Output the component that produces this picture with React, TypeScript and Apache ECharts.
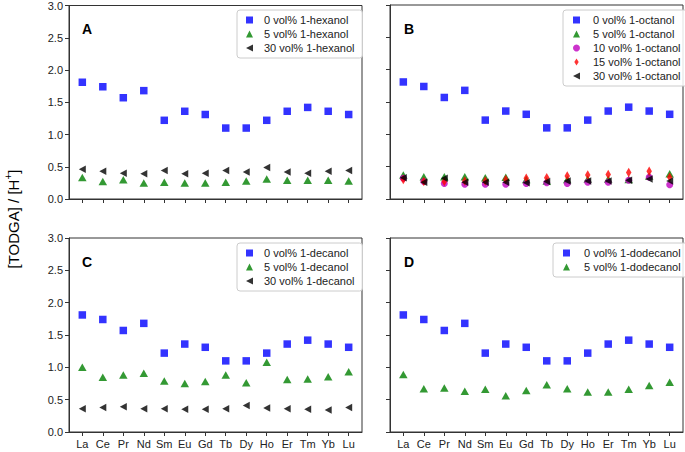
import React, { useEffect, useRef } from "react";
import * as echarts from "echarts";

const categories = ["La", "Ce", "Pr", "Nd", "Sm", "Eu", "Gd", "Tb", "Dy", "Ho", "Er", "Tm", "Yb", "Lu"];
const yTicks = [0, 0.5, 1, 1.5, 2, 2.5, 3];

const base0 = [1.81, 1.74, 1.57, 1.68, 1.22, 1.36, 1.31, 1.1, 1.1, 1.22, 1.36, 1.42, 1.36, 1.31];

const hexanol5 = [0.335, 0.27, 0.3, 0.25, 0.26, 0.25, 0.25, 0.26, 0.28, 0.31, 0.29, 0.29, 0.29, 0.28];
const hexanol30 = [0.46, 0.43, 0.4, 0.39, 0.44, 0.39, 0.4, 0.44, 0.42, 0.49, 0.42, 0.4, 0.43, 0.44];

const octanol5 = [0.37, 0.345, 0.345, 0.345, 0.33, 0.335, 0.3, 0.28, 0.3, 0.31, 0.31, 0.3, 0.355, 0.39];
const octanol10 = [0.32, 0.27, 0.24, 0.23, 0.23, 0.23, 0.24, 0.25, 0.24, 0.26, 0.26, 0.29, 0.335, 0.22];
const octanol15 = [0.3, 0.27, 0.27, 0.28, 0.28, 0.3, 0.32, 0.33, 0.355, 0.37, 0.38, 0.41, 0.43, 0.335];
const octanol30 = [0.33, 0.26, 0.32, 0.26, 0.26, 0.26, 0.25, 0.27, 0.28, 0.28, 0.28, 0.29, 0.31, 0.28];

const decanol5 = [1.0, 0.845, 0.88, 0.91, 0.79, 0.75, 0.78, 0.88, 0.76, 1.08, 0.81, 0.82, 0.855, 0.93];
const decanol30 = [0.36, 0.38, 0.39, 0.36, 0.36, 0.35, 0.35, 0.36, 0.41, 0.37, 0.36, 0.35, 0.34, 0.38];

const dodecanol5 = [0.89, 0.67, 0.68, 0.63, 0.66, 0.56, 0.64, 0.73, 0.67, 0.62, 0.62, 0.66, 0.72, 0.77];

const FONT = "Liberation Sans, Arial, sans-serif";
const AX = "#333";

const SQ = { symbol: "rect", symbolSize: 7.5, color: "#0000ff" };
const TRI = { symbol: "triangle", symbolSize: [8.5, 7.5], color: "#008000" };
const LTRI = { symbol: "path://M0,5L10,0L10,10Z", symbolSize: [7, 7.5], color: "#000000" };
const CIRC = { symbol: "circle", symbolSize: 7, color: "#bf00bf" };
const DIAM = { symbol: "path://M5,0L10,8L5,16L0,8Z", symbolSize: [5.5, 9.5], color: "#ff0000" };

const grids = [
  { left: 69, top: 5, width: 293, height: 194 },
  { left: 390, top: 5, width: 293, height: 194 },
  { left: 69, top: 238, width: 293, height: 194 },
  { left: 390, top: 238, width: 293, height: 194 },
];

function toPoints(arr: number[]) {
  return arr.map((v, i) => [i, v]);
}

function makeSeries(name: string, arr: number[], st: any, gi: number, z: number) {
  return {
    type: "scatter",
    name,
    xAxisIndex: gi,
    yAxisIndex: gi,
    data: toPoints(arr),
    symbol: st.symbol,
    symbolSize: st.symbolSize,
    itemStyle: { color: st.color },
    z,
  };
}

function makeLegend(names: string[], icons: string[], left: number, top: number, padLeft: number, textPad: number) {
  return {
    orient: "vertical",
    left,
    top,
    padding: [3, 8, 3, padLeft],
    itemWidth: 7,
    itemHeight: 7,
    itemGap: 0,
    backgroundColor: "rgba(255,255,255,0.85)",
    borderColor: "#cccccc",
    borderWidth: 1,
    borderRadius: 3,
    selectedMode: false,
    data: names.map((n, i) => ({ name: n, icon: icons[i] })),
    textStyle: { fontSize: 11, lineHeight: 14, color: "#222", fontFamily: FONT, padding: [0, 0, 0, textPad] },
  };
}

export default function App() {
  const ref = useRef<HTMLDivElement>(null);
  useEffect(() => {
    if (!ref.current) return;
    const chart = echarts.init(ref.current, null, { renderer: "svg" });
    const xAxes = grids.map((_, gi) => ({
      type: "value",
      gridIndex: gi,
      min: -0.65,
      max: 13.65,
      splitLine: { show: false },
      axisLine: { show: true, onZero: false, lineStyle: { color: AX, width: 1 } },
      axisTick: { show: true, customValues: categories.map((_, i) => i), length: 4, lineStyle: { color: AX } },
      axisLabel: {
        show: gi >= 2,
        customValues: categories.map((_, i) => i),
        formatter: (v: number) => categories[Math.round(v)],
        fontSize: 11,
        color: "#222",
        fontFamily: FONT,
        margin: 6,
      },
    }));
    const yAxes = grids.map((_, gi) => ({
      type: "value",
      gridIndex: gi,
      min: yTicks[0],
      max: yTicks[yTicks.length - 1],
      interval: 0.5,
      splitLine: { show: false },
      axisLine: { show: true, onZero: false, lineStyle: { color: AX, width: 1 } },
      axisTick: { show: true, length: 4, lineStyle: { color: AX } },
      axisLabel: {
        show: gi % 2 === 0,
        formatter: (v: number) => v.toFixed(1),
        fontSize: 11,
        color: "#222",
        fontFamily: FONT,
        margin: 6,
      },
    }));

    const series = [
      makeSeries("0 vol% 1-hexanol", base0, SQ, 0, 2),
      makeSeries("5 vol% 1-hexanol", hexanol5, TRI, 0, 3),
      makeSeries("30 vol% 1-hexanol", hexanol30, LTRI, 0, 4),
      makeSeries("0 vol% 1-octanol", base0, SQ, 1, 2),
      makeSeries("5 vol% 1-octanol", octanol5, TRI, 1, 3),
      makeSeries("10 vol% 1-octanol", octanol10, CIRC, 1, 4),
      makeSeries("15 vol% 1-octanol", octanol15, DIAM, 1, 5),
      makeSeries("30 vol% 1-octanol", octanol30, LTRI, 1, 6),
      makeSeries("0 vol% 1-decanol", base0, SQ, 2, 2),
      makeSeries("5 vol% 1-decanol", decanol5, TRI, 2, 3),
      makeSeries("30 vol% 1-decanol", decanol30, LTRI, 2, 4),
      makeSeries("0 vol% 1-dodecanol", base0, SQ, 3, 2),
      makeSeries("5 vol% 1-dodecanol", dodecanol5, TRI, 3, 3),
    ];

    const option: any = {
      animation: false,
      grid: grids.map((g) => ({ ...g, show: true, borderColor: AX, borderWidth: 1, backgroundColor: "transparent" })),
      xAxis: xAxes,
      yAxis: yAxes,
      legend: [
        makeLegend(
          ["0 vol% 1-hexanol", "5 vol% 1-hexanol", "30 vol% 1-hexanol"],
          [SQ.symbol, TRI.symbol, LTRI.symbol],
          237, 10, 9, 6
        ),
        makeLegend(
          ["0 vol% 1-octanol", "5 vol% 1-octanol", "10 vol% 1-octanol", "15 vol% 1-octanol", "30 vol% 1-octanol"],
          [SQ.symbol, TRI.symbol, CIRC.symbol, DIAM.symbol, LTRI.symbol],
          563, 10, 10, 8
        ),
        makeLegend(
          ["0 vol% 1-decanol", "5 vol% 1-decanol", "30 vol% 1-decanol"],
          [SQ.symbol, TRI.symbol, LTRI.symbol],
          237, 243, 9, 6
        ),
        makeLegend(
          ["0 vol% 1-dodecanol", "5 vol% 1-dodecanol"],
          [SQ.symbol, TRI.symbol],
          553, 243, 10, 9
        ),
      ],
      graphic: [
        { type: "text", left: 82, top: 22, style: { text: "A", fontSize: 14, fontWeight: "bold", fontFamily: FONT, fill: "#000" } },
        { type: "text", left: 404, top: 22, style: { text: "B", fontSize: 14, fontWeight: "bold", fontFamily: FONT, fill: "#000" } },
        { type: "text", left: 82, top: 255, style: { text: "C", fontSize: 14, fontWeight: "bold", fontFamily: FONT, fill: "#000" } },
        { type: "text", left: 404, top: 255, style: { text: "D", fontSize: 14, fontWeight: "bold", fontFamily: FONT, fill: "#000" } },
        {
          type: "text",
          x: 13,
          y: 219,
          rotation: Math.PI / 2,
          style: {
            text: "{a|[TODGA] / [H}{s|+}{a|]}",
            align: "center",
            verticalAlign: "middle",
            fill: "#000",
            rich: {
              a: { fontSize: 15, fontFamily: FONT, lineHeight: 20, fill: "#000" },
              s: { fontSize: 10, fontFamily: FONT, lineHeight: 10, verticalAlign: "top", fill: "#000" },
            },
          },
        },
      ],
      series,
    };
    chart.setOption(option);
    return () => chart.dispose();
  }, []);
  return <div ref={ref} style={{ position: "absolute", left: 0, top: 0, width: 685, height: 452 }} />;
}
